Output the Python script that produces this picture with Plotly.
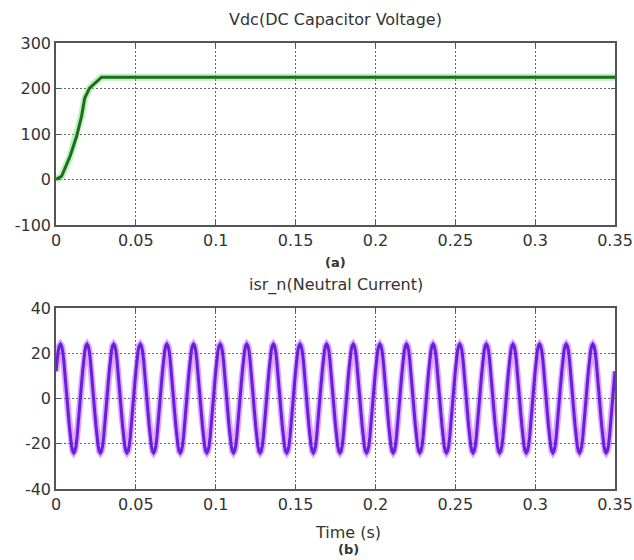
import plotly.graph_objects as go

# ---- data ----
vdc_time = [0.0, 0.0035, 0.0088, 0.0129, 0.016, 0.018, 0.021, 0.0254, 0.0285, 0.05, 0.1, 0.15, 0.2, 0.25, 0.3, 0.35]
vdc_value = [0, 7, 51, 95, 139, 179, 201, 216, 225, 225, 225, 225, 225, 225, 225, 225]

# one cycle (60 Hz) of neutral current, sampled every 1/24 of a period, starting at t = 0
current_cycle = [12, 17, 21, 23.3, 24, 23.3, 21, 17, 12, 6.2, 0, -6.2,
                 -12, -17, -21, -23.3, -24, -23.3, -21, -17, -12, -6.2, 0, 6.2]
current_period = 1 / 60
n_cycles = 21

x_ticks = [0, 0.05, 0.1, 0.15, 0.2, 0.25, 0.3, 0.35]
x_tick_labels = ["0", "0.05", "0.1", "0.15", "0.2", "0.25", "0.3", "0.35"]
vdc_ticks = [-100, 0, 100, 200, 300]
vdc_tick_labels = ["-100", "0", "100", "200", "300"]
cur_ticks = [-40, -20, 0, 20, 40]
cur_tick_labels = ["-40", "-20", "0", "20", "40"]

# build current series by repeating the read cycle
isr_t, isr_v = [], []
step = current_period / len(current_cycle)
for c in range(n_cycles):
    for k, v in enumerate(current_cycle):
        isr_t.append((c * len(current_cycle) + k) * step)
        isr_v.append(v)
isr_t.append(n_cycles * current_period)
isr_v.append(current_cycle[0])

fig = go.Figure()
fig.add_trace(go.Scatter(x=vdc_time, y=vdc_value, mode="lines", line=dict(color="rgba(120,230,120,0.5)", width=7),
                         xaxis="x", yaxis="y", hoverinfo="skip", showlegend=False))
fig.add_trace(go.Scatter(x=vdc_time, y=vdc_value, mode="lines", line=dict(color="#1c6e1c", width=3),
                         xaxis="x", yaxis="y", showlegend=False))
fig.add_trace(go.Scatter(x=isr_t, y=isr_v, mode="lines", line=dict(color="rgba(200,90,255,0.55)", width=6.5),
                         xaxis="x2", yaxis="y2", hoverinfo="skip", showlegend=False))
fig.add_trace(go.Scatter(x=isr_t, y=isr_v, mode="lines", line=dict(color="#6420dc", width=3),
                         xaxis="x2", yaxis="y2", showlegend=False))

FAM = "DejaVu Sans, Verdana, sans-serif"
font = dict(family=FAM, size=16, color="#333333")
axis_common = dict(showline=True, mirror="ticks", linecolor="#555555", linewidth=1.5,
                   showgrid=True, gridcolor="#666666", griddash="2px,2px", gridwidth=1.3,
                   ticks="inside", ticklen=4, tickcolor="#555555", zeroline=False,
                   automargin=False, tickfont=font)

# page body margin is removed below, so the figure fills the 634x560 window exactly
W, H = 634, 560
def px_x(p):
    return p / W
def px_y(p):
    return 1 - p / H

xd = [px_x(56), px_x(615)]
fig.update_layout(
    width=W, height=H, margin=dict(l=0, r=0, t=0, b=0),
    paper_bgcolor="white", plot_bgcolor="white", font=font,
    xaxis=dict(domain=xd, anchor="y", range=[0, 0.35], tickvals=x_ticks, ticktext=x_tick_labels, **axis_common),
    yaxis=dict(domain=[px_y(225), px_y(43)], anchor="x", range=[-100, 300],
               tickvals=vdc_ticks, ticktext=vdc_tick_labels, **axis_common),
    xaxis2=dict(domain=xd, anchor="y2", range=[0, 0.35], tickvals=x_ticks, ticktext=x_tick_labels, **axis_common),
    yaxis2=dict(domain=[px_y(489), px_y(308)], anchor="x2", range=[-40, 40],
                tickvals=cur_ticks, ticktext=cur_tick_labels, **axis_common),
)

cx = (xd[0] + xd[1]) / 2
def ann(text, ypix, x=cx, bold=False, size=16):
    fig.add_annotation(text=f"<b>{text}</b>" if bold else text, x=x, y=px_y(ypix), xref="paper", yref="paper",
                       xanchor="center", yanchor="middle", showarrow=False,
                       font=dict(family=FAM, size=size, color="#333333"))

ann("Vdc(DC Capacitor Voltage)", 20)
ann("(a)", 262, bold=True, size=13)
ann("isr_n(Neutral Current)", 285)
ann("Time (s)", 532, x=px_x(348))
ann("(b)", 549, x=px_x(348), bold=True, size=13)

fig.write_html(
    "out.html",
    config={"displayModeBar": False},
    post_script="document.documentElement.style.margin='0';document.documentElement.style.overflow='hidden';"
                "document.body.style.margin='0';document.body.style.overflow='hidden';",
)
